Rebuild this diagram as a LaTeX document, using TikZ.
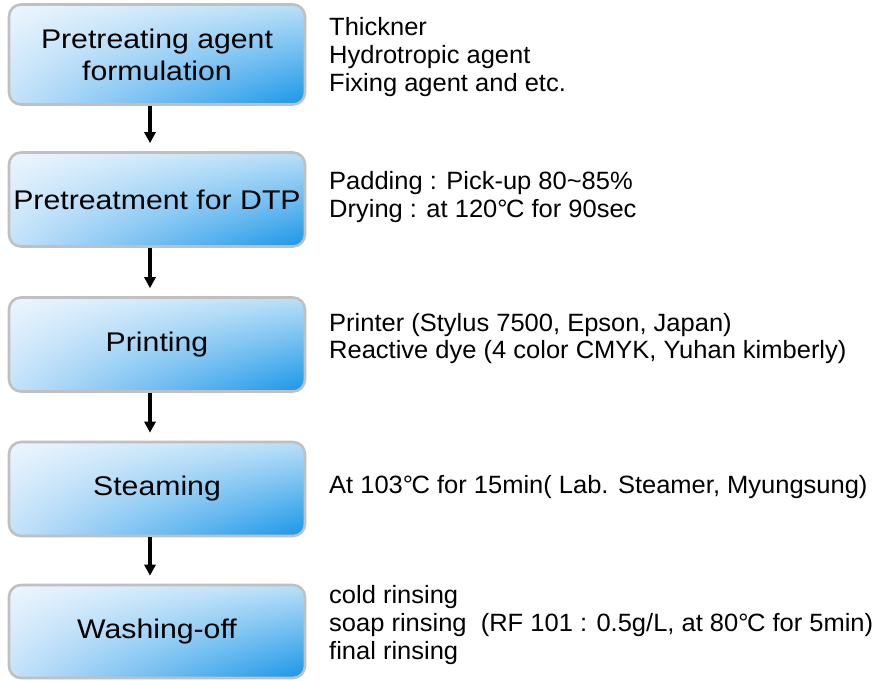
\documentclass[tikz,border=0pt]{standalone}
\usepackage{fontspec}
\usetikzlibrary{arrows.meta,fadings}
\newfontfamily\stepfont[FakeStretch=1.12]{Liberation Sans}
\newfontfamily\notefont[FakeStretch=1.02]{Liberation Sans}
\newcommand{\degC}{°\kern-0.06em C}
\definecolor{boxblue}{RGB}{25,150,232}
\definecolor{boxpale}{RGB}{196,226,250}
\definecolor{boxrim}{RGB}{192,192,192}
% white wash that is strong at the top of a box and vanishes at its bottom
\tikzfading[name=washdown, top color=transparent!30, bottom color=transparent!100]
\tikzset{
  stepbox/.style={draw=boxrim, line width=2.6pt, rounded corners=12pt,
    minimum width=296pt, inner sep=0pt,
    path picture={
      \fill[left color=boxpale, right color=boxblue]
        (path picture bounding box.south west) rectangle (path picture bounding box.north east);
      \fill[white, path fading=washdown]
        (path picture bounding box.south west) rectangle (path picture bounding box.north east);
    },
    align=center, font=\stepfont\fontsize{27}{32}\selectfont},
  note/.style={anchor=west, inner sep=0pt, align=left,
    font=\notefont\fontsize{25}{27.6}\selectfont},
  flow/.style={line width=4pt, -{Triangle[width=11pt,length=11pt]},
    shorten >=8pt}
}
\begin{document}
\begin{tikzpicture}[x=1pt,y=-1pt]
\useasboundingbox[fill=white] (0,0) rectangle (890,680);

% process steps
\node[stepbox, minimum height=100pt] (b1) at (157,54.5) {Pretreating agent\\formulation};
\node[stepbox, minimum height=94pt] (b2) at (157,199.5) {Pretreatment for DTP};
\node[stepbox, minimum height=94pt] (b3) at (157,344.5) {Printing};
\node[stepbox, minimum height=94pt] (b4) at (157,489) {Steaming};
\node[stepbox, minimum height=93pt] (b5) at (157,631.5) {Washing-off};

% flow arrows
\draw[flow] (b1.south -| 150,0) -- (b2.north -| 150,0);
\draw[flow] (b2.south -| 150,0) -- (b3.north -| 150,0);
\draw[flow] (b3.south -| 150,0) -- (b4.north -| 150,0);
\draw[flow] (b4.south -| 150,0) -- (b5.north -| 150,0);

% conditions for each step
\node[note] (t1) at (329,57) {Thickner\\Hydrotropic agent\\Fixing agent and etc.};
\node[note] (t2) at (329,197) {Padding : Pick-up 80{\char"7E}85\%\\Drying : at 120\degC{} for 90sec};
\node[note] (t3) at (329,338.5) {Printer (Stylus 7500, Epson, Japan)\\Reactive dye (4 color CMYK, Yuhan kimberly)};
\node[note] (t4) at (329,487) {At 103\degC{} for 15min( Lab. Steamer, Myungsung)};
\node[note] (t5) at (329,625) {cold rinsing\\soap rinsing\ \ (RF 101 : 0.5g/L, at 80\degC{} for 5min)\\final rinsing};
\end{tikzpicture}
\end{document}
